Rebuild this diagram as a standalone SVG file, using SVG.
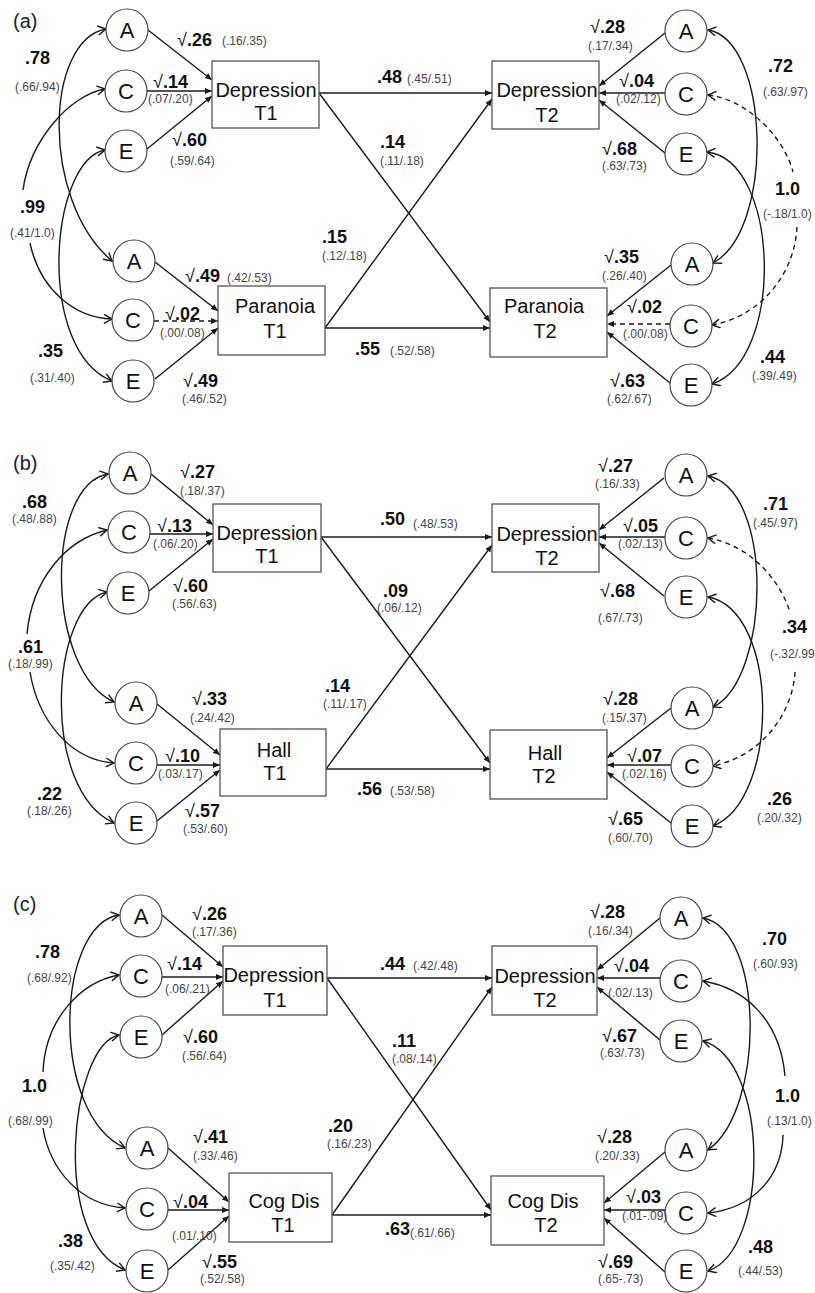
<svg xmlns="http://www.w3.org/2000/svg" width="815" height="1293" viewBox="0 0 815 1293">
<style>
text{font-family:"Liberation Sans",Arial,sans-serif}
.c{fill:#fff;stroke:#444;stroke-width:1.2}
.b{fill:#fff;stroke:#555;stroke-width:1.3}
.l{fill:none;stroke:#1a1a1a;stroke-width:1.4}
.d{stroke-dasharray:5 4}
.ar{marker-end:url(#tri)}
.cs{marker-start:url(#chev)}
.ce{marker-end:url(#chev)}
.nt{font-size:22px;text-anchor:middle;fill:#111}
.bt{font-size:20px;text-anchor:middle;fill:#111}
.k{font-size:18px;font-weight:bold;fill:#111}
.k tspan{font-weight:normal}
.s{font-size:12px;fill:#444}
.p{font-size:20px;fill:#222}
</style>
<defs>
<marker id="tri" markerUnits="userSpaceOnUse" markerWidth="8" markerHeight="8" refX="7" refY="3" orient="auto"><path d="M0,0 L7,3 L0,6 z" fill="#1a1a1a"/></marker>
<marker id="chev" markerUnits="userSpaceOnUse" markerWidth="12" markerHeight="12" refX="9" refY="5" orient="auto-start-reverse"><path d="M1,0.5 L9,5 L1,9.5" fill="none" stroke="#1a1a1a" stroke-width="1.4"/></marker>
</defs>
<rect width="815" height="1293" fill="#fff"/>

<!-- ===== Panel (a) ===== -->
<g id="panel-a">
<text class="p" x="13" y="28">(a)</text>
<g id="a-edges">
<path class="l ar" d="M148,30 L212,80"/>
<path class="l ar" d="M147,91 L212,91"/>
<path class="l ar" d="M147,149 L212,96"/>
<path class="l ar" d="M155,262 L218,311"/>
<path class="l d ar" d="M154,321 L218,321"/>
<path class="l ar" d="M155,379 L218,328"/>
<path class="l ar" d="M319,93 L492,93"/>
<path class="l ar" d="M319,93 L490,322"/>
<path class="l ar" d="M325,328 L492,99"/>
<path class="l ar" d="M325,328 L490,328"/>
<path class="l ar" d="M665,33 L599,86"/>
<path class="l ar" d="M665,93 L599,93"/>
<path class="l ar" d="M665,153 L599,100"/>
<path class="l ar" d="M671,265 L607,316"/>
<path class="l d ar" d="M670,324 L607,324"/>
<path class="l ar" d="M670,383 L607,332"/>
<path class="l cs ce" d="M106,29 C45,40 40,200 112,261"/>
<path class="l cs" d="M105,89 C70,95 30,140 23,190"/>
<path class="l ce" d="M30,243 C40,290 75,318 112,319"/>
<path class="l cs ce" d="M105,150 C50,160 35,350 112,381"/>
<path class="l cs ce" d="M708,30 C770,40 775,230 713,263"/>
<path class="l d cs" d="M708,95 C750,100 785,140 793,172"/>
<path class="l d ce" d="M797,227 C795,270 765,315 712,325"/>
<path class="l cs ce" d="M707,152 C780,160 785,360 712,384"/>
</g>
<g id="a-DepT1"><rect class="b" x="212" y="61" width="107" height="67"/><text class="bt" x="266" y="97">Depression</text><text class="bt" x="266" y="120">T1</text></g>
<g id="a-ParT1"><rect class="b" x="218" y="286" width="107" height="69"/><text class="bt" x="275" y="313">Paranoia</text><text class="bt" x="275" y="338">T1</text></g>
<g id="a-DepT2"><rect class="b" x="492" y="61" width="107" height="68"/><text class="bt" x="547" y="97">Depression</text><text class="bt" x="547" y="122">T2</text></g>
<g id="a-ParT2"><rect class="b" x="490" y="288" width="117" height="69"/><text class="bt" x="544" y="313">Paranoia</text><text class="bt" x="545" y="338">T2</text></g>
<g id="a-A1"><circle class="c" cx="127" cy="30" r="21"/><text class="nt" x="127" y="38">A</text></g>
<g id="a-C1"><circle class="c" cx="126" cy="91" r="21"/><text class="nt" x="126" y="99">C</text></g>
<g id="a-E1"><circle class="c" cx="126" cy="151" r="21"/><text class="nt" x="126" y="159">E</text></g>
<g id="a-A2"><circle class="c" cx="134" cy="261" r="21"/><text class="nt" x="134" y="269">A</text></g>
<g id="a-C2"><circle class="c" cx="133" cy="320" r="21"/><text class="nt" x="133" y="328">C</text></g>
<g id="a-E2"><circle class="c" cx="133" cy="381" r="21"/><text class="nt" x="133" y="389">E</text></g>
<g id="a-A3"><circle class="c" cx="686" cy="31" r="21"/><text class="nt" x="686" y="39">A</text></g>
<g id="a-C3"><circle class="c" cx="686" cy="94" r="21"/><text class="nt" x="686" y="102">C</text></g>
<g id="a-E3"><circle class="c" cx="686" cy="154" r="21"/><text class="nt" x="686" y="162">E</text></g>
<g id="a-A4"><circle class="c" cx="692" cy="264" r="21"/><text class="nt" x="692" y="272">A</text></g>
<g id="a-C4"><circle class="c" cx="691" cy="326" r="21"/><text class="nt" x="691" y="334">C</text></g>
<g id="a-E4"><circle class="c" cx="691" cy="385" r="21"/><text class="nt" x="691" y="393">E</text></g>
<g id="a-labels">
<text class="k" x="177" y="46"><tspan>√</tspan>.26</text><text class="s" x="222" y="45">(.16/.35)</text>
<text class="k" x="25" y="64">.78</text><text class="s" x="15" y="91">(.66/.94)</text>
<text class="k" x="153" y="88"><tspan>√</tspan>.14</text><text class="s" x="148" y="103">(.07/.20)</text>
<text class="k" x="172" y="146"><tspan>√</tspan>.60</text><text class="s" x="170" y="165">(.59/.64)</text>
<text class="k" x="377" y="83">.48</text><text class="s" x="407" y="83">(.45/.51)</text>
<text class="k" x="380" y="148">.14</text><text class="s" x="380" y="165">(.11/.18)</text>
<text class="k" x="20" y="213">.99</text><text class="s" x="10" y="237">(.41/1.0)</text>
<text class="k" x="185" y="282"><tspan>√</tspan>.49</text><text class="s" x="227" y="282">(.42/.53)</text>
<text class="k" x="165" y="320"><tspan>√</tspan>.02</text><text class="s" x="160" y="337">(.00/.08)</text>
<text class="k" x="38" y="357">.35</text><text class="s" x="30" y="382">(.31/.40)</text>
<text class="k" x="183" y="387"><tspan>√</tspan>.49</text><text class="s" x="182" y="403">(.46/.52)</text>
<text class="k" x="322" y="243">.15</text><text class="s" x="322" y="260">(.12/.18)</text>
<text class="k" x="355" y="355">.55</text><text class="s" x="390" y="355">(.52/.58)</text>
<text class="k" x="590" y="33"><tspan>√</tspan>.28</text><text class="s" x="588" y="50">(.17/.34)</text>
<text class="k" x="619" y="87"><tspan>√</tspan>.04</text><text class="s" x="616" y="103">(.02/.12)</text>
<text class="k" x="768" y="72">.72</text><text class="s" x="763" y="96">(.63/.97)</text>
<text class="k" x="602" y="155"><tspan>√</tspan>.68</text><text class="s" x="602" y="170">(.63/.73)</text>
<text class="k" x="775" y="195">1.0</text><text class="s" x="763" y="218">(-.18/1.0)</text>
<text class="k" x="604" y="263"><tspan>√</tspan>.35</text><text class="s" x="602" y="280">(.26/.40)</text>
<text class="k" x="627" y="313"><tspan>√</tspan>.02</text><text class="s" x="623" y="338">(.00/.08)</text>
<text class="k" x="610" y="387"><tspan>√</tspan>.63</text><text class="s" x="607" y="403">(.62/.67)</text>
<text class="k" x="760" y="363">.44</text><text class="s" x="752" y="380">(.39/.49)</text>
</g>
</g>

<!-- ===== Panel (b) ===== -->
<g id="panel-b">
<text class="p" x="13" y="470">(b)</text>
<g id="b-edges">
<path class="l ar" d="M151,474 L213,525"/>
<path class="l ar" d="M150,534 L213,534"/>
<path class="l ar" d="M149,591 L213,539"/>
<path class="l ar" d="M157,704 L220,755"/>
<path class="l ar" d="M157,765 L220,765"/>
<path class="l ar" d="M157,821 L220,770"/>
<path class="l ar" d="M321,537 L492,537"/>
<path class="l ar" d="M321,537 L490,763"/>
<path class="l ar" d="M326,769 L492,545"/>
<path class="l ar" d="M326,769 L490,769"/>
<path class="l ar" d="M664,478 L599,530"/>
<path class="l ar" d="M665,537 L599,537"/>
<path class="l ar" d="M664,596 L599,543"/>
<path class="l ar" d="M671,708 L607,758"/>
<path class="l ar" d="M671,765 L607,765"/>
<path class="l ar" d="M671,823 L607,772"/>
<path class="l cs ce" d="M108,474 C45,485 45,670 114,702"/>
<path class="l cs" d="M107,530 C65,540 32,580 27,634"/>
<path class="l ce" d="M30,672 C38,720 70,760 114,763"/>
<path class="l cs ce" d="M107,592 C50,605 40,790 114,823"/>
<path class="l cs ce" d="M708,476 C775,490 770,680 713,707"/>
<path class="l d cs" d="M708,538 C750,545 780,580 790,612"/>
<path class="l d ce" d="M795,672 C793,710 765,755 713,766"/>
<path class="l cs ce" d="M708,597 C780,610 780,800 713,826"/>
</g>
<g id="b-DepT1"><rect class="b" x="213" y="504" width="108" height="68"/><text class="bt" x="267" y="540">Depression</text><text class="bt" x="267" y="563">T1</text></g>
<g id="b-HallT1"><rect class="b" x="220" y="729" width="106" height="67"/><text class="bt" x="274" y="757">Hall</text><text class="bt" x="275" y="780">T1</text></g>
<g id="b-DepT2"><rect class="b" x="492" y="504" width="107" height="68"/><text class="bt" x="547" y="541">Depression</text><text class="bt" x="547" y="565">T2</text></g>
<g id="b-HallT2"><rect class="b" x="490" y="730" width="117" height="69"/><text class="bt" x="545" y="760">Hall</text><text class="bt" x="544" y="783">T2</text></g>
<g id="b-A1"><circle class="c" cx="130" cy="473" r="21"/><text class="nt" x="130" y="481">A</text></g>
<g id="b-C1"><circle class="c" cx="129" cy="532" r="21"/><text class="nt" x="129" y="540">C</text></g>
<g id="b-E1"><circle class="c" cx="128" cy="593" r="21"/><text class="nt" x="128" y="601">E</text></g>
<g id="b-A2"><circle class="c" cx="136" cy="703" r="21"/><text class="nt" x="136" y="711">A</text></g>
<g id="b-C2"><circle class="c" cx="136" cy="763" r="21"/><text class="nt" x="136" y="771">C</text></g>
<g id="b-E2"><circle class="c" cx="136" cy="823" r="21"/><text class="nt" x="136" y="831">E</text></g>
<g id="b-A3"><circle class="c" cx="686" cy="475" r="21"/><text class="nt" x="686" y="483">A</text></g>
<g id="b-C3"><circle class="c" cx="686" cy="538" r="21"/><text class="nt" x="686" y="546">C</text></g>
<g id="b-E3"><circle class="c" cx="686" cy="597" r="21"/><text class="nt" x="686" y="605">E</text></g>
<g id="b-A4"><circle class="c" cx="692" cy="708" r="21"/><text class="nt" x="692" y="716">A</text></g>
<g id="b-C4"><circle class="c" cx="692" cy="766" r="21"/><text class="nt" x="692" y="774">C</text></g>
<g id="b-E4"><circle class="c" cx="692" cy="826" r="21"/><text class="nt" x="692" y="834">E</text></g>
<g id="b-labels">
<text class="k" x="180" y="478"><tspan>√</tspan>.27</text><text class="s" x="180" y="495">(.18/.37)</text>
<text class="k" x="22" y="508">.68</text><text class="s" x="12" y="523">(.48/.88)</text>
<text class="k" x="157" y="532"><tspan>√</tspan>.13</text><text class="s" x="153" y="548">(.06/.20)</text>
<text class="k" x="173" y="592"><tspan>√</tspan>.60</text><text class="s" x="172" y="608">(.56/.63)</text>
<text class="k" x="380" y="525">.50</text><text class="s" x="413" y="528">(.48/.53)</text>
<text class="k" x="383" y="597">.09</text><text class="s" x="377" y="612">(.06/.12)</text>
<text class="k" x="18" y="653">.61</text><text class="s" x="8" y="668">(.18/.99)</text>
<text class="k" x="192" y="705"><tspan>√</tspan>.33</text><text class="s" x="190" y="722">(.24/.42)</text>
<text class="k" x="165" y="762"><tspan>√</tspan>.10</text><text class="s" x="158" y="778">(.03/.17)</text>
<text class="k" x="37" y="800">.22</text><text class="s" x="27" y="815">(.18/.26)</text>
<text class="k" x="185" y="817"><tspan>√</tspan>.57</text><text class="s" x="183" y="833">(.53/.60)</text>
<text class="k" x="325" y="692">.14</text><text class="s" x="323" y="708">(.11/.17)</text>
<text class="k" x="357" y="795">.56</text><text class="s" x="390" y="795">(.53/.58)</text>
<text class="k" x="598" y="472"><tspan>√</tspan>.27</text><text class="s" x="595" y="488">(.16/.33)</text>
<text class="k" x="623" y="532"><tspan>√</tspan>.05</text><text class="s" x="618" y="548">(.02/.13)</text>
<text class="k" x="763" y="510">.71</text><text class="s" x="753" y="527">(.45/.97)</text>
<text class="k" x="600" y="597"><tspan>√</tspan>.68</text><text class="s" x="598" y="622">(.67/.73)</text>
<text class="k" x="782" y="633">.34</text><text class="s" x="770" y="658">(-.32/.99</text>
<text class="k" x="603" y="705"><tspan>√</tspan>.28</text><text class="s" x="602" y="722">(.15/.37)</text>
<text class="k" x="627" y="762"><tspan>√</tspan>.07</text><text class="s" x="622" y="778">(.02/.16)</text>
<text class="k" x="767" y="805">.26</text><text class="s" x="757" y="822">(.20/.32)</text>
<text class="k" x="608" y="825"><tspan>√</tspan>.65</text><text class="s" x="608" y="842">(.60/.70)</text>
</g>
</g>

<!-- ===== Panel (c) ===== -->
<g id="panel-c">
<text class="p" x="13" y="911">(c)</text>
<g id="c-edges">
<path class="l ar" d="M162,915 L223,967"/>
<path class="l ar" d="M162,977 L223,977"/>
<path class="l ar" d="M162,1035 L223,981"/>
<path class="l ar" d="M168,1148 L229,1202"/>
<path class="l ar" d="M168,1210 L229,1210"/>
<path class="l ar" d="M168,1270 L229,1216"/>
<path class="l ar" d="M327,978 L492,978"/>
<path class="l ar" d="M327,978 L491,1210"/>
<path class="l ar" d="M332,1215 L492,987"/>
<path class="l ar" d="M332,1215 L491,1215"/>
<path class="l ar" d="M660,918 L597,970"/>
<path class="l ar" d="M660,978 L597,978"/>
<path class="l ar" d="M660,1040 L597,987"/>
<path class="l ar" d="M665,1152 L604,1203"/>
<path class="l ar" d="M665,1210 L604,1210"/>
<path class="l ar" d="M665,1272 L604,1218"/>
<path class="l cs ce" d="M119,915 C55,925 50,1115 125,1148"/>
<path class="l cs" d="M119,975 C80,982 45,1020 43,1072"/>
<path class="l ce" d="M43,1128 C50,1170 80,1205 125,1208"/>
<path class="l cs ce" d="M119,1035 C70,1045 50,1240 125,1270"/>
<path class="l cs ce" d="M703,918 C765,930 765,1110 708,1150"/>
<path class="l cs" d="M703,981 C745,988 780,1020 785,1076"/>
<path class="l ce" d="M783,1135 C782,1175 755,1208 708,1213"/>
<path class="l cs ce" d="M703,1041 C770,1060 770,1250 708,1271"/>
</g>
<g id="c-DepT1"><rect class="b" x="223" y="946" width="104" height="69"/><text class="bt" x="274" y="982">Depression</text><text class="bt" x="275" y="1007">T1</text></g>
<g id="c-CogT1"><rect class="b" x="229" y="1173" width="103" height="69"/><text class="bt" x="284" y="1208">Cog Dis</text><text class="bt" x="283" y="1232">T1</text></g>
<g id="c-DepT2"><rect class="b" x="492" y="946" width="105" height="69"/><text class="bt" x="545" y="983">Depression</text><text class="bt" x="545" y="1007">T2</text></g>
<g id="c-CogT2"><rect class="b" x="491" y="1176" width="113" height="69"/><text class="bt" x="543" y="1208">Cog Dis</text><text class="bt" x="546" y="1232">T2</text></g>
<g id="c-A1"><circle class="c" cx="141" cy="916" r="21"/><text class="nt" x="141" y="924">A</text></g>
<g id="c-C1"><circle class="c" cx="141" cy="976" r="21"/><text class="nt" x="141" y="984">C</text></g>
<g id="c-E1"><circle class="c" cx="141" cy="1037" r="21"/><text class="nt" x="141" y="1045">E</text></g>
<g id="c-A2"><circle class="c" cx="147" cy="1148" r="21"/><text class="nt" x="147" y="1156">A</text></g>
<g id="c-C2"><circle class="c" cx="147" cy="1209" r="21"/><text class="nt" x="147" y="1217">C</text></g>
<g id="c-E2"><circle class="c" cx="147" cy="1271" r="21"/><text class="nt" x="147" y="1279">E</text></g>
<g id="c-A3"><circle class="c" cx="681" cy="918" r="21"/><text class="nt" x="681" y="926">A</text></g>
<g id="c-C3"><circle class="c" cx="681" cy="981" r="21"/><text class="nt" x="681" y="989">C</text></g>
<g id="c-E3"><circle class="c" cx="681" cy="1041" r="21"/><text class="nt" x="681" y="1049">E</text></g>
<g id="c-A4"><circle class="c" cx="686" cy="1150" r="21"/><text class="nt" x="686" y="1158">A</text></g>
<g id="c-C4"><circle class="c" cx="686" cy="1213" r="21"/><text class="nt" x="686" y="1221">C</text></g>
<g id="c-E4"><circle class="c" cx="686" cy="1271" r="21"/><text class="nt" x="686" y="1279">E</text></g>
<g id="c-labels">
<text class="k" x="192" y="920"><tspan>√</tspan>.26</text><text class="s" x="192" y="936">(.17/.36)</text>
<text class="k" x="35" y="958">.78</text><text class="s" x="27" y="982">(.68/.92)</text>
<text class="k" x="167" y="970"><tspan>√</tspan>.14</text><text class="s" x="165" y="993">(.06/.21)</text>
<text class="k" x="183" y="1043"><tspan>√</tspan>.60</text><text class="s" x="182" y="1060">(.56/.64)</text>
<text class="k" x="380" y="970">.44</text><text class="s" x="413" y="970">(.42/.48)</text>
<text class="k" x="392" y="1047">.11</text><text class="s" x="392" y="1063">(.08/.14)</text>
<text class="k" x="22" y="1092">1.0</text><text class="s" x="8" y="1125">(.68/.99)</text>
<text class="k" x="193" y="1143"><tspan>√</tspan>.41</text><text class="s" x="193" y="1160">(.33/.46)</text>
<text class="k" x="173" y="1208"><tspan>√</tspan>.04</text><text class="s" x="172" y="1240">(.01/.10)</text>
<text class="k" x="58" y="1247">.38</text><text class="s" x="50" y="1270">(.35/.42)</text>
<text class="k" x="202" y="1268"><tspan>√</tspan>.55</text><text class="s" x="200" y="1283">(.52/.58)</text>
<text class="k" x="328" y="1132">.20</text><text class="s" x="327" y="1148">(.16/.23)</text>
<text class="k" x="385" y="1235">.63</text><text class="s" x="410" y="1237">(.61/.66)</text>
<text class="k" x="590" y="918"><tspan>√</tspan>.28</text><text class="s" x="588" y="935">(.16/.34)</text>
<text class="k" x="614" y="972"><tspan>√</tspan>.04</text><text class="s" x="608" y="997">(.02/.13)</text>
<text class="k" x="762" y="945">.70</text><text class="s" x="753" y="968">(.60/.93)</text>
<text class="k" x="602" y="1042"><tspan>√</tspan>.67</text><text class="s" x="600" y="1057">(.63/.73)</text>
<text class="k" x="775" y="1102">1.0</text><text class="s" x="767" y="1125">(.13/1.0)</text>
<text class="k" x="597" y="1143"><tspan>√</tspan>.28</text><text class="s" x="595" y="1160">(.20/.33)</text>
<text class="k" x="626" y="1203"><tspan>√</tspan>.03</text><text class="s" x="622" y="1220">(.01-.09)</text>
<text class="k" x="748" y="1253">.48</text><text class="s" x="738" y="1275">(.44/.53)</text>
<text class="k" x="598" y="1268"><tspan>√</tspan>.69</text><text class="s" x="598" y="1283">(.65-.73)</text>
</g>
</g>
</svg>
